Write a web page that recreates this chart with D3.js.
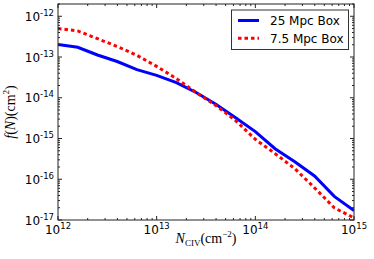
<!DOCTYPE html>
<html>
<head>
<meta charset="utf-8">
<script src="https://cdn.jsdelivr.net/npm/d3@7"></script>
<style>
  body { margin: 0; background: white; }
  svg { display: block; }
  text { font-family: 'DejaVu Sans', sans-serif; fill: black; }
  .math { font-family: 'Liberation Serif', 'DejaVu Serif', serif; }
</style>
</head>
<body>
<svg id="chart" width="374" height="259"></svg>
<script>
// log10 of column density (cm^-2)
const logN = [12.0, 12.2, 12.4, 12.6, 12.8, 13.0, 13.2, 13.4, 13.6, 13.8, 14.0, 14.2, 14.4, 14.6, 14.8, 15.0]
// log10 f(N)
const box25 = [-12.69, -12.76, -12.95, -13.11, -13.31, -13.45, -13.63, -13.87, -14.16, -14.49, -14.83, -15.25, -15.57, -15.92, -16.42, -16.77]
const box75 = [-12.30, -12.36, -12.55, -12.74, -12.96, -13.23, -13.53, -13.87, -14.19, -14.56, -15.02, -15.37, -15.74, -16.21, -16.70, -16.95]
const seriesNames = ['25 Mpc Box', '7.5 Mpc Box']
const xTickExp = [12, 13, 14, 15]
const yTickExp = [-17, -16, -15, -14, -13, -12]

const margin = { top: 4, right: 20, bottom: 39, left: 58 }
const width = 374
const height = 259
const plotW = width - margin.left - margin.right
const plotH = height - margin.top - margin.bottom

const svg = d3.select('#chart')

const x = d3.scaleLog().domain([1e12, 1e15]).range([margin.left, margin.left + plotW])
const y = d3.scaleLog().domain([1e-17, 2e-12]).range([margin.top + plotH, margin.top])

svg.append('clipPath').attr('id', 'clip')
  .append('rect')
  .attr('x', margin.left).attr('y', margin.top)
  .attr('width', plotW).attr('height', plotH)

const line = d3.line()
  .x(d => x(Math.pow(10, d[0])))
  .y(d => y(Math.pow(10, d[1])))

const blueData = logN.map((n, i) => [n, box25[i]])
const redData = logN.map((n, i) => [n, box75[i]])

const lines = svg.append('g').attr('clip-path', 'url(#clip)')

lines.append('path')
  .datum(blueData)
  .attr('fill', 'none')
  .attr('stroke', '#0000ff')
  .attr('stroke-width', 3)
  .attr('d', line)

lines.append('path')
  .datum(redData)
  .attr('fill', 'none')
  .attr('stroke', '#ff0000')
  .attr('stroke-width', 3)
  .attr('stroke-dasharray', '3.5,3')
  .attr('d', line)

// ticks (inward, all four sides)
const axisColor = '#222'
const ticks = svg.append('g').attr('stroke', axisColor).attr('stroke-width', 1)
const x0 = margin.left
const x1 = margin.left + plotW
const y0 = margin.top + plotH
const y1 = margin.top

const xMinor = []
for (let e = 12; e < 15; e++) for (let k = 2; k <= 9; k++) xMinor.push(k * Math.pow(10, e))
const yMinor = [2e-12]
for (let e = -17; e < -12; e++) for (let k = 2; k <= 9; k++) yMinor.push(k * Math.pow(10, e))

xTickExp.forEach(e => {
  const px = x(Math.pow(10, e))
  ticks.append('line').attr('x1', px).attr('x2', px).attr('y1', y0).attr('y2', y0 - 4)
  ticks.append('line').attr('x1', px).attr('x2', px).attr('y1', y1).attr('y2', y1 + 4)
})
xMinor.forEach(v => {
  const px = x(v)
  ticks.append('line').attr('x1', px).attr('x2', px).attr('y1', y0).attr('y2', y0 - 2)
  ticks.append('line').attr('x1', px).attr('x2', px).attr('y1', y1).attr('y2', y1 + 2)
})
yTickExp.forEach(e => {
  const py = y(Math.pow(10, e))
  ticks.append('line').attr('x1', x0).attr('x2', x0 + 4).attr('y1', py).attr('y2', py)
  ticks.append('line').attr('x1', x1).attr('x2', x1 - 4).attr('y1', py).attr('y2', py)
})
yMinor.forEach(v => {
  const py = y(v)
  ticks.append('line').attr('x1', x0).attr('x2', x0 + 2).attr('y1', py).attr('y2', py)
  ticks.append('line').attr('x1', x1).attr('x2', x1 - 2).attr('y1', py).attr('y2', py)
})

// frame
svg.append('rect')
  .attr('x', x0).attr('y', y1)
  .attr('width', plotW).attr('height', plotH)
  .attr('fill', 'none')
  .attr('stroke', axisColor)
  .attr('stroke-width', 1)

// tick labels
xTickExp.forEach(e => {
  const t = svg.append('text')
    .attr('x', x(Math.pow(10, e)))
    .attr('y', 234)
    .attr('text-anchor', 'middle')
    .attr('font-size', 12)
  t.append('tspan').text('10')
  t.append('tspan').attr('dy', -5).attr('font-size', 8.5).text(e)
})
yTickExp.forEach(e => {
  const t = svg.append('text')
    .attr('x', 54)
    .attr('y', y(Math.pow(10, e)) + 4.5)
    .attr('text-anchor', 'end')
    .attr('font-size', 12)
  t.append('tspan').text('10')
  t.append('tspan').attr('dy', -5).attr('font-size', 8.5).text(e)
})

// axis labels
const xl = svg.append('text')
  .attr('class', 'math')
  .attr('x', x0 + plotW / 2)
  .attr('y', 243)
  .attr('text-anchor', 'middle')
  .attr('font-size', 14)
xl.append('tspan').attr('font-style', 'italic').text('N')
xl.append('tspan').attr('dy', 2.5).attr('font-size', 9).text('CIV')
xl.append('tspan').attr('dy', -2.5).text('(cm')
xl.append('tspan').attr('dy', -6).attr('font-size', 9).text('−2')
xl.append('tspan').attr('dy', 6).text(')')

const yl = svg.append('text')
  .attr('class', 'math')
  .attr('transform', `translate(15, ${y1 + plotH / 2}) rotate(-90)`)
  .attr('text-anchor', 'middle')
  .attr('font-size', 14)
yl.append('tspan').attr('font-style', 'italic').text('f')
yl.append('tspan').text('(')
yl.append('tspan').attr('font-style', 'italic').text('N')
yl.append('tspan').text(')(cm')
yl.append('tspan').attr('dy', -6).attr('font-size', 9).text('2')
yl.append('tspan').attr('dy', 6).text(')')

// legend
const legend = svg.append('g')
legend.append('rect')
  .attr('x', 231.5).attr('y', 10)
  .attr('width', 117).attr('height', 39.5)
  .attr('fill', 'white')
  .attr('stroke', '#333')
  .attr('stroke-width', 1)

const legendStyles = [
  { color: '#0000ff', dash: null },
  { color: '#ff0000', dash: '3.5,3' }
]
seriesNames.forEach((name, i) => {
  const ly = 20.5 + i * 17.8
  const l = legend.append('line')
    .attr('x1', 238).attr('x2', 259)
    .attr('y1', ly).attr('y2', ly)
    .attr('stroke', legendStyles[i].color)
    .attr('stroke-width', 3)
  if (legendStyles[i].dash) l.attr('stroke-dasharray', legendStyles[i].dash)
  legend.append('text')
    .attr('x', 270)
    .attr('y', ly + 4.5)
    .attr('font-size', 12)
    .text(name)
})
</script>
</body>
</html>
